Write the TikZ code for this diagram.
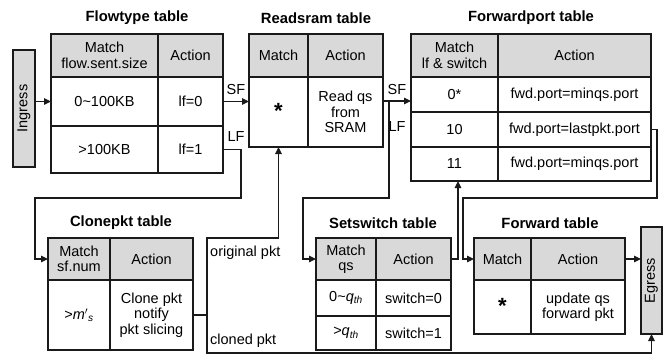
\documentclass[tikz,border=0pt]{standalone}
\usepackage{fontspec}
\setmainfont{Liberation Sans}
\usetikzlibrary{arrows.meta}
\definecolor{hdr}{HTML}{D9D9D9}
\definecolor{ln}{HTML}{1A1A1A}
\tikzset{
 x=1pt,y=-1pt,
 cellbase/.style={draw=ln, line width=1.1pt, inner sep=0pt, outer sep=0pt, align=center, font=\fontsize{14.5}{15.5}\selectfont},
 hcell/.style={cellbase, fill=hdr},
 bcell/.style={cellbase, fill=white},
 ttl/.style={font=\fontsize{14.8}{16}\selectfont\bfseries, inner sep=0pt},
 lbl/.style={font=\fontsize{14.5}{15.5}\selectfont, inner sep=0pt},
 conn/.style={draw=ln, line width=1.1pt},
 arr/.style={conn, -{Triangle[length=7pt,width=6.5pt]}},
}
\newcommand\tcell[7]{\node[#6, minimum width={#4pt-#2pt}, minimum height={#5pt-#3pt}] (#1) at ({(#2+#4)/2},{(#3+#5)/2}) {#7};}
\newcommand\bigstar{\raisebox{2pt}{\fontsize{22}{22}\selectfont\bfseries *}}
\begin{document}
\begin{tikzpicture}
\useasboundingbox (0,0) rectangle (665,356);
% titles
\node[ttl] (t-ft) at (137,18) {Flowtype table};
\node[ttl] (t-rs) at (316,18) {Readsram table};
\node[ttl] (t-fp) at (531,18) {Forwardport table};
\node[ttl] (t-cp) at (121,223) {Clonepkt table};
\node[ttl] (t-ss) at (383,223) {Setswitch table};
\node[ttl] (t-fw) at (550,223) {Forward table};
% ingress / egress
\node[hcell, minimum width=22pt, minimum height=117pt] (ingress) at (24,108.5) {};
\node[lbl, rotate=90] (ingress-t) at (ingress) {Ingress};
\node[hcell, minimum width=21pt, minimum height=107pt] (egress) at (651.5,280.5) {};
\node[lbl, rotate=90] (egress-t) at (egress) {Egress};
% Flowtype
\tcell{fth1}{51}{34}{158}{77}{hcell}{Match\\flow.sent.size}
\tcell{fth2}{158}{34}{223}{77}{hcell}{Action}
\tcell{ft11}{51}{77}{158}{126}{bcell}{0\textasciitilde100KB}
\tcell{ft12}{158}{77}{223}{126}{bcell}{lf=0}
\tcell{ft21}{51}{126}{158}{173}{bcell}{>100KB}
\tcell{ft22}{158}{126}{223}{173}{bcell}{lf=1}
% Readsram
\tcell{rsh1}{249}{34}{308}{77}{hcell}{Match}
\tcell{rsh2}{308}{34}{383}{77}{hcell}{Action}
\tcell{rs11}{249}{77}{308}{147}{bcell}{\bigstar}
\tcell{rs12}{308}{77}{383}{147}{bcell}{Read qs\\from\\SRAM}
% Forwardport
\tcell{fph1}{411}{34}{498}{77}{hcell}{Match\\lf \& switch}
\tcell{fph2}{498}{34}{651}{77}{hcell}{Action}
\tcell{fp11}{411}{77}{498}{112}{bcell}{0*}
\tcell{fp12}{498}{77}{651}{112}{bcell}{fwd.port=minqs.port}
\tcell{fp21}{411}{112}{498}{147}{bcell}{10}
\tcell{fp22}{498}{112}{651}{147}{bcell}{fwd.port=lastpkt.port}
\tcell{fp31}{411}{147}{498}{181}{bcell}{11}
\tcell{fp32}{498}{147}{651}{181}{bcell}{fwd.port=minqs.port}
% Clonepkt
\tcell{cph1}{48}{238}{110}{280}{hcell}{Match\\sf.num}
\tcell{cph2}{110}{238}{193}{280}{hcell}{Action}
\tcell{cp11}{48}{280}{110}{350}{bcell}{>\textit{m}$'$\textsubscript{\textit{s}}}
\tcell{cp12}{110}{280}{193}{350}{bcell}{Clone pkt\\notify\\pkt slicing}
% Setswitch
\tcell{ssh1}{316}{238}{376}{280}{hcell}{Match\\qs}
\tcell{ssh2}{376}{238}{451}{280}{hcell}{Action}
\tcell{ss11}{316}{280}{376}{316}{bcell}{0\textasciitilde\textit{q}\textsubscript{\textit{th}}}
\tcell{ss12}{376}{280}{451}{316}{bcell}{switch=0}
\tcell{ss21}{316}{316}{376}{350}{bcell}{>\textit{q}\textsubscript{\textit{th}}}
\tcell{ss22}{376}{316}{451}{350}{bcell}{switch=1}
% Forward
\tcell{fwh1}{474}{238}{531}{280}{hcell}{Match}
\tcell{fwh2}{531}{238}{625}{280}{hcell}{Action}
\tcell{fw11}{474}{280}{531}{334}{bcell}{\bigstar}
\tcell{fw12}{531}{280}{625}{334}{bcell}{update qs\\forward pkt}
% coordinates
\coordinate (lf1a) at (241,198);
\coordinate (lf1b) at (35,198);
\coordinate (cja) at (207,238);
\coordinate (cjb) at (207,353);
\coordinate (rsj) at (389,101);
\coordinate (lf2a) at (389,198);
\coordinate (lf2b) at (303,198);
\coordinate (ssu) at (458,259);
\coordinate (fwa) at (657,198);
\coordinate (fwb) at (463,198);
% connectors
\draw[arr] (ingress.east |- ft11.west) -- (ft11.west);
\draw[arr] (ft12.east) -- (rs11.west |- ft12.east);
\draw[arr] (ft22.east) -| (lf1a) -- (lf1b) |- (cph1.west);
\draw[arr] (cp12.east) -| (cja) -| (rs11.south);
\draw[arr] (cp12.east) -| (cjb) -| (egress.south);
\draw[arr] (rs12.east |- rsj) -- (fp11.west |- rsj);
\draw[arr] (rsj) -- (lf2a) -- (lf2b) |- (ssh1.west);
\draw[arr] (ssh2.east) -- (ssu) -- (ssu |- fp31.south);
\draw[arr] (fp22.east) -| (fwa) -- (fwb) |- (fwh1.west);
\draw[arr] (fwh2.east) -- (egress.west |- fwh2.east);
% labels
\node[lbl] (sf1) at (236,90) {SF};
\node[lbl] (lf1) at (236,137) {LF};
\node[lbl] (sf2) at (397,90) {SF};
\node[lbl] (lf2) at (397,127) {LF};
\node[lbl, anchor=west] (op) at (210,253) {original pkt};
\node[lbl, anchor=west] (cl) at (210,341) {cloned pkt};
\end{tikzpicture}
\end{document}
